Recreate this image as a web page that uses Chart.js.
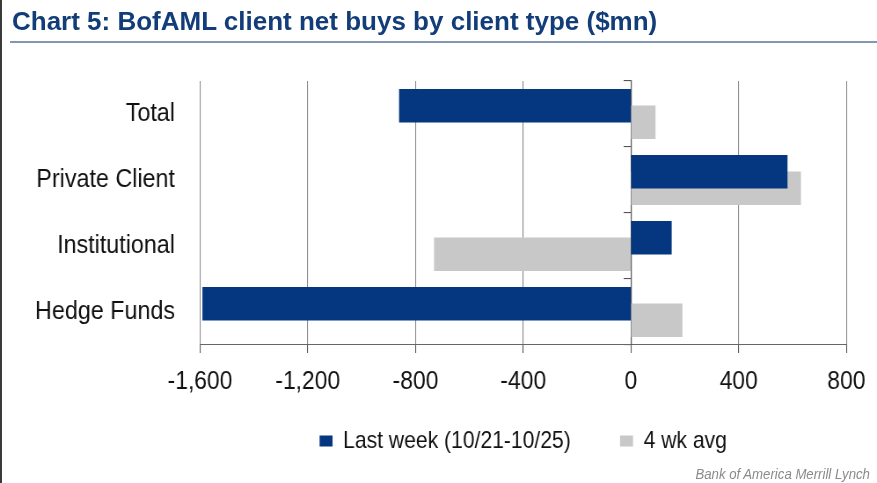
<!DOCTYPE html>
<html>
<head>
<meta charset="utf-8">
<script src="https://cdn.jsdelivr.net/npm/chart.js@4.4.1/dist/chart.umd.min.js"></script>
<style>
  html, body { margin: 0; padding: 0; background: #fff; }
  #wrap { position: relative; width: 877px; height: 483px; overflow: hidden; }
  /* chart fonts in the original are narrow, so the stage is drawn wide and squeezed */
  #stage {
    position: absolute; left: 0; top: 0; width: 997px; height: 483px;
    transform: scaleX(0.8796); transform-origin: 0 0;
  }
  #chartBox { position: absolute; left: 0; top: 0; width: 997px; height: 483px; }
  #source {
    position: absolute; right: 8px; top: 466px;
    font: italic 15px/15px 'Liberation Sans', Arial, sans-serif;
    color: #8a8a8a; white-space: nowrap;
  }
  #title {
    position: absolute; left: 12px; top: 8px; margin: 0;
    font: bold 26px/26px 'Liberation Sans', Arial, sans-serif;
    color: #133d79; white-space: nowrap;
  }
  #rule { position: absolute; left: 10px; right: 0; top: 41px; height: 2px; background: #8197b5; }
  #edge { position: absolute; left: 0; top: 0; width: 2px; height: 483px; background: #3a3a3a; }
</style>
</head>
<body>
<div id="wrap">
  <div id="stage">
    <div id="chartBox"><canvas id="chart"></canvas></div>
    <div id="source">Bank of America Merrill Lynch</div>
  </div>
  <div id="edge"></div>
  <h1 id="title">Chart 5: BofAML client net buys by client type ($mn)</h1>
  <div id="rule"></div>
</div>
<script>
const categories = ['Total', 'Private Client', 'Institutional', 'Hedge Funds'];
const lastWeek = [-860, 580, 150, -1590];
const fourWeekAvg = [90, 630, -730, 190];
const xTicks = [-1600, -1200, -800, -400, 0, 400, 800];
const seriesNames = ['Last week (10/21-10/25)', '4 wk avg'];

const font = "'Liberation Sans', Arial, sans-serif";
const K = 0.8796;      // horizontal squeeze of #stage
const shift = 0.125;   // excel style overlap: second bar sits half under the first

function points(values, off) {
  return values.map((v, i) => ({x: v, y: i + off}));
}

// legend padding is wide to space the two items, pull the row back up
const legendLift = {
  id: 'legendLift',
  afterLayout(chart) {
    chart.legend.top -= 20;
    chart.legend.bottom -= 20;
  }
};

const ctx = document.getElementById('chart').getContext('2d');
const chart = new Chart(ctx, {
  type: 'bar',
  data: {
    datasets: [{
      label: seriesNames[0],
      data: points(lastWeek, -shift),
      backgroundColor: '#04377f',
      grouped: false,
      barThickness: 33
    }, {
      label: seriesNames[1],
      data: points(fourWeekAvg, shift),
      backgroundColor: '#c8c8c8',
      grouped: false,
      barThickness: 33
    }]
  },
  options: {
    indexAxis: 'y',
    responsive: true,
    maintainAspectRatio: false,
    animation: false,
    layout: { padding: { left: 0, right: 29 / K, top: 81, bottom: 0 } },
    scales: {
      x: {
        type: 'linear',
        min: -1600,
        max: 800,
        afterBuildTicks: s => { s.ticks = xTicks.map(v => ({value: v})); },
        afterFit: s => { s.height = 48; },
        grid: { color: '#888', lineWidth: 1.1, tickLength: 8, tickColor: '#555' },
        border: { color: '#666', width: 1.1 },
        ticks: {
          padding: 13,
          color: '#111',
          font: { family: font, size: 26 },
          maxRotation: 0,
          callback: v => v.toLocaleString('en-US')
        }
      },
      y: {
        type: 'linear',
        reverse: true,
        offset: false,
        min: -0.5,
        max: 3.5,
        afterBuildTicks: s => { s.ticks = categories.map((c, i) => ({value: i})); },
        afterFit: s => { s.width = 200 / K; },
        grid: { display: false, drawTicks: false, offset: false },
        border: { display: false },
        ticks: {
          padding: 25 / K,
          color: '#111',
          font: { family: font, size: 26.5 },
          callback: v => categories[v]
        }
      },
      // axis line at zero with the small category divider ticks
      yz: {
        type: 'linear',
        position: { x: 0 },
        reverse: true,
        offset: false,
        min: -0.5,
        max: 3.5,
        afterBuildTicks: s => { s.ticks = [-0.5, 0.5, 1.5, 2.5, 3.5].map(v => ({value: v})); },
        grid: { drawOnChartArea: false, offset: false, tickLength: 8, tickColor: '#555', lineWidth: 1.1 },
        border: { color: '#555', width: 1.2 },
        ticks: { display: false }
      }
    },
    plugins: {
      legend: {
        position: 'bottom',
        fullSize: false,
        labels: {
          boxWidth: 13 / K,
          boxHeight: 11,
          padding: 56,
          color: '#111',
          font: { family: font, size: 24 }
        }
      },
      tooltip: { enabled: false }
    }
  },
  plugins: [legendLift]
});
</script>
</body>
</html>
